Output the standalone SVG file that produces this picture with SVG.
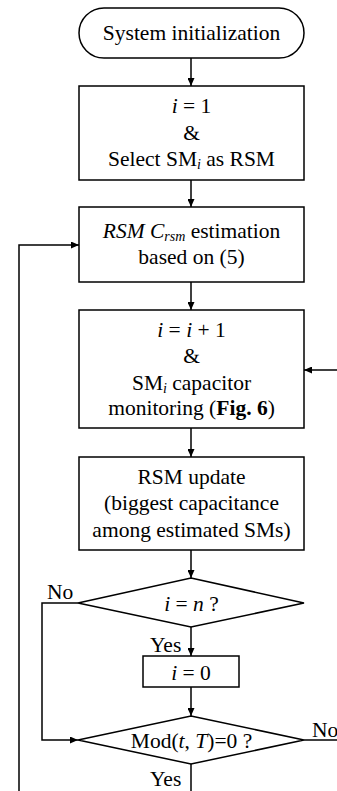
<svg xmlns="http://www.w3.org/2000/svg" width="337" height="791" viewBox="0 0 337 791">
<style>
.s{fill:#fff;stroke:#000;stroke-width:1.5}
.c{fill:none;stroke:#000;stroke-width:1.5}
text{font-family:"Liberation Serif","Times New Roman",serif;font-size:21.5px;fill:#000}
.m{text-anchor:middle}
.i{font-style:italic}
.b{font-weight:bold}
.sub{font-size:14px;font-style:italic}
</style>
<defs>
<marker id="a" markerUnits="userSpaceOnUse" markerWidth="9" markerHeight="7" refX="8" refY="3.5" orient="auto">
<path d="M0,0 L8,3.5 L0,7 z" fill="#000"/>
</marker>
</defs>
<rect width="337" height="791" fill="#fff"/>
<g id="connectors">
<line class="c" x1="191" y1="58" x2="191" y2="86" marker-end="url(#a)"/>
<line class="c" x1="191" y1="180" x2="191" y2="207" marker-end="url(#a)"/>
<line class="c" x1="191" y1="282" x2="191" y2="310" marker-end="url(#a)"/>
<line class="c" x1="191" y1="428" x2="191" y2="457" marker-end="url(#a)"/>
<line class="c" x1="191" y1="550" x2="191" y2="578" marker-end="url(#a)"/>
<line class="c" x1="191" y1="627" x2="191" y2="656" marker-end="url(#a)"/>
<line class="c" x1="191" y1="687" x2="191" y2="716" marker-end="url(#a)"/>
<line class="c" x1="191" y1="764" x2="191" y2="791"/>
<polyline class="c" points="78,603 42,603 42,740 78,740" marker-end="url(#a)"/>
<line class="c" x1="304" y1="740" x2="337" y2="740"/>
<line class="c" x1="337" y1="370" x2="304" y2="370" marker-end="url(#a)"/>
<polyline class="c" points="19,791 19,245 79,245" marker-end="url(#a)"/>
<text x="47" y="599">No</text>
<text x="150" y="652">Yes</text>
<text x="312" y="737">No</text>
<text x="150" y="786">Yes</text>
</g>
<g id="start">
<rect class="s" x="79" y="8" width="225" height="50" rx="25" ry="25"/>
<text class="m" x="191.5" y="40">System initialization</text>
</g>
<g id="init">
<rect class="s" x="79" y="86" width="225" height="94"/>
<text class="m" x="191.5" y="113"><tspan class="i">i</tspan> = 1</text>
<text class="m" x="191.5" y="140">&amp;</text>
<text class="m" x="191.5" y="166">Select SM<tspan class="sub" dy="3">i</tspan><tspan dy="-3"> as RSM</tspan></text>
</g>
<g id="estimate">
<rect class="s" x="79" y="207" width="225" height="75"/>
<text class="m" x="191.5" y="238"><tspan class="i">RSM C</tspan><tspan class="sub" dy="3">rsm</tspan><tspan dy="-3"> estimation</tspan></text>
<text class="m" x="191.5" y="264">based on (5)</text>
</g>
<g id="monitor">
<rect class="s" x="79" y="310" width="225" height="118"/>
<text class="m" x="191.5" y="337"><tspan class="i">i</tspan> = <tspan class="i">i</tspan> + 1</text>
<text class="m" x="191.5" y="363">&amp;</text>
<text class="m" x="191.5" y="390">SM<tspan class="sub" dy="3">i</tspan><tspan dy="-3"> capacitor</tspan></text>
<text class="m" x="191.5" y="415">monitoring (<tspan class="b">Fig. 6</tspan>)</text>
</g>
<g id="update">
<rect class="s" x="79" y="457" width="225" height="93"/>
<text class="m" x="191.5" y="484">RSM update</text>
<text class="m" x="191.5" y="510">(biggest capacitance</text>
<text class="m" x="191.5" y="537">among estimated SMs)</text>
</g>
<g id="check-n">
<polygon class="s" points="191,578 304,603 191,627 78,603"/>
<text class="m" x="191.5" y="611"><tspan class="i">i</tspan> = <tspan class="i">n</tspan> ?</text>
</g>
<g id="reset">
<rect class="s" x="143" y="656" width="96" height="31"/>
<text class="m" x="191" y="680"><tspan class="i">i</tspan> = 0</text>
</g>
<g id="check-mod">
<polygon class="s" points="191,716 304,740 191,764 78,740"/>
<text class="m" x="191.5" y="748">Mod(<tspan class="i">t</tspan>, <tspan class="i">T</tspan>)=0 ?</text>
</g>
</svg>
